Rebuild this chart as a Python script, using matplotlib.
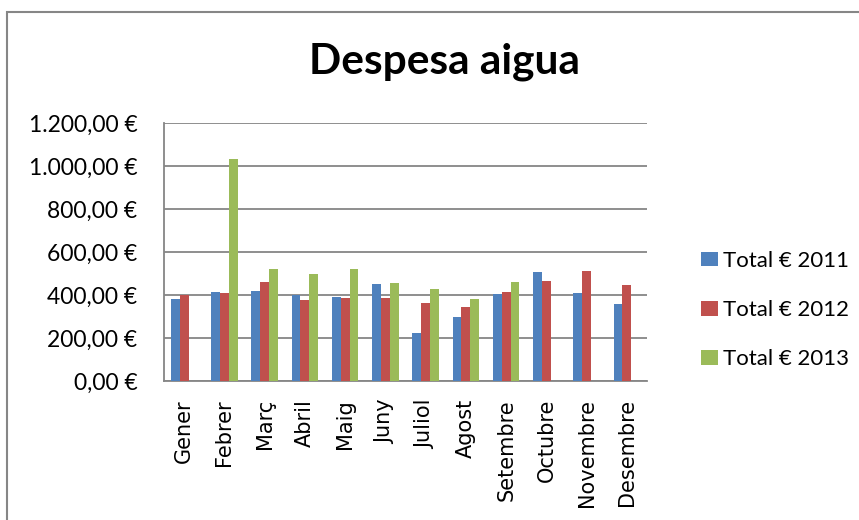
import matplotlib
matplotlib.use("Agg")
import matplotlib.pyplot as plt
from matplotlib.patches import Rectangle
from matplotlib.ticker import FuncFormatter
import numpy as np

# dades
mesos = ['Gener', 'Febrer', 'Març', 'Abril', 'Maig', 'Juny', 'Juliol',
         'Agost', 'Setembre', 'Octubre', 'Novembre', 'Desembre']
total_2011 = [380, 415, 419, 399, 391, 453, 224, 298, 405, 508, 407, 360]
total_2012 = [402, 411, 460, 379, 385, 387, 363, 344, 413, 467, 510, 446]
total_2013 = [np.nan, 1033, 519, 496, 523, 457, 428, 383, 460, np.nan, np.nan, np.nan]
series = ['Total € 2011', 'Total € 2012', 'Total € 2013']
colors = ['#4F81BD', '#C0504D', '#9BBB59']
gris = '#868686'

fig = plt.figure(figsize=(8.59, 5.20), dpi=100)
ax = fig.add_axes([164/859, 1 - 381/520, (647 - 164)/859, (381 - 123)/520])

x = np.arange(len(mesos))
w = 0.22
for i, (vals, nom, c) in enumerate(zip([total_2011, total_2012, total_2013], series, colors)):
    ax.bar(x + (i - 1) * w, vals, width=w, color=c, label=nom, zorder=3)

ax.set_xlim(-0.5, len(mesos) - 0.5)
ax.set_ylim(0, 1200)
ax.set_yticks(range(0, 1201, 200))

def euros(v, pos):
    s = f"{v:,.2f}".replace(',', 'X').replace('.', ',').replace('X', '.')
    return s + ' €'

ax.yaxis.set_major_formatter(FuncFormatter(euros))
ax.grid(axis='y', color=gris, linewidth=1.3, zorder=0)
for s in ['top', 'right']:
    ax.spines[s].set_visible(False)
for s in ['left', 'bottom']:
    ax.spines[s].set_color(gris)
    ax.spines[s].set_linewidth(1.3)

ax.set_xticks(x)
ax.set_xticklabels(mesos, rotation=90, fontsize=15, family='DejaVu Sans')
ax.tick_params(axis='x', length=0, pad=13)
ax.tick_params(axis='y', length=0, pad=19, labelsize=16.5)
for t in ax.get_yticklabels():
    t.set_family('Lato')

fig.text(445/859, 1 - 62/520, 'Despesa aigua', ha='center', va='center',
         fontsize=30.5, fontweight='bold', family='Lato')

ax.legend(loc='center left', bbox_to_anchor=(690/859, 1 - 310/520),
          bbox_transform=fig.transFigure, frameon=False, borderpad=0,
          prop={'family': 'Lato', 'size': 16}, handlelength=0.75,
          handleheight=0.64, handletextpad=0.25, labelspacing=1.32)

# marc del gràfic
fig.patches.append(Rectangle((7/859, -0.1), 1.2, 1.1 - 12/520, transform=fig.transFigure,
                             fill=False, edgecolor=gris, linewidth=1.5))

fig.savefig('out.png', dpi=100)
